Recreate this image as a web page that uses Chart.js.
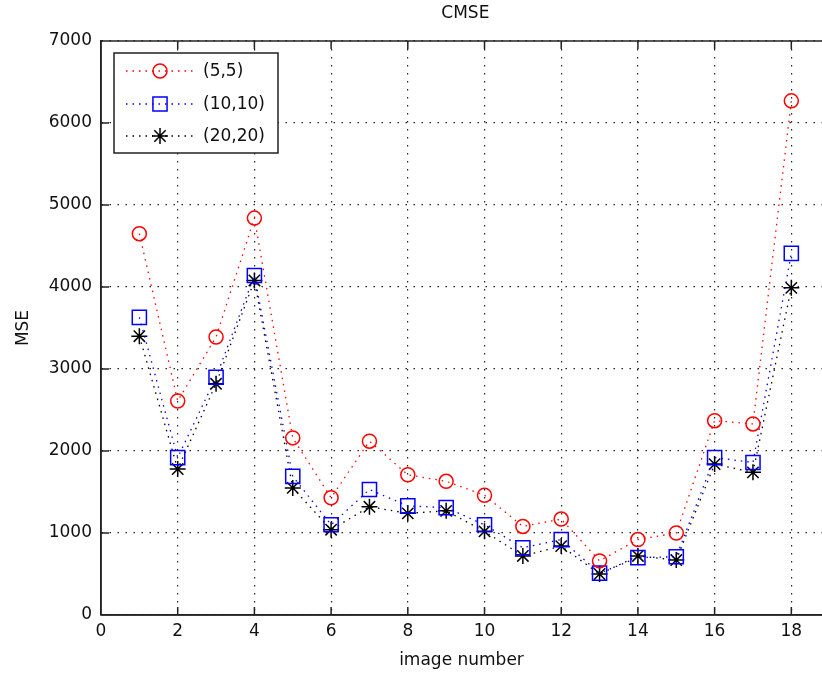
<!DOCTYPE html>
<html>
<head>
<meta charset="utf-8">
<title>CMSE</title>
<script src="https://cdn.jsdelivr.net/npm/chart.js@4/dist/chart.umd.min.js"></script>
<style>
html, body { margin: 0; padding: 0; background: #fff; overflow: hidden; }
</style>
</head>
<body>
<canvas id="myChart" width="822" height="676"></canvas>
<script>
// data
var imageNumbers = [1, 2, 3, 4, 5, 6, 7, 8, 9, 10, 11, 12, 13, 14, 15, 16, 17, 18];
var mse55   = [4650, 2610, 3390, 4840, 2160, 1430, 2120, 1710, 1630, 1460, 1080, 1170, 660, 920, 1000, 2370, 2330, 6270];
var mse1010 = [3630, 1920, 2900, 4140, 1690, 1100, 1530, 1330, 1310, 1100, 820, 920, 510, 700, 710, 1920, 1860, 4410];
var mse2020 = [3400, 1780, 2820, 4080, 1550, 1040, 1320, 1240, 1270, 1020, 720, 840, 500, 720, 670, 1840, 1740, 3990];
var seriesNames = ["(5,5)", "(10,10)", "(20,20)"];
var xTicks = [0, 2, 4, 6, 8, 10, 12, 14, 16, 18];
var yTicks = [0, 1000, 2000, 3000, 4000, 5000, 6000, 7000];

var FONT = "'DejaVu Sans', sans-serif";

function pts(ys) {
  return imageNumbers.map(function (x, i) { return { x: x, y: ys[i] }; });
}

function series(label, ys, color, style, radius) {
  return {
    label: label,
    data: pts(ys),
    borderColor: color,
    borderWidth: 1.3,
    borderDash: [1.5, 5],
    fill: false,
    tension: 0,
    pointStyle: style,
    pointRadius: radius,
    pointBorderColor: color,
    pointBackgroundColor: "rgba(0,0,0,0)",
    pointBorderWidth: 1.5
  };
}

// title, box, inward ticks and legend, matlab style
var matlabBits = {
  id: "matlabBits",
  afterDraw: function (chart) {
    var ctx = chart.ctx, a = chart.chartArea;
    var xs = chart.scales.x, ys = chart.scales.y;
    ctx.save();
    ctx.strokeStyle = "#222";
    ctx.lineWidth = 1.5;
    ctx.beginPath();
    ctx.moveTo(a.left, a.top); ctx.lineTo(a.right, a.top);
    ctx.moveTo(a.left, a.top); ctx.lineTo(a.left, a.bottom);
    ctx.moveTo(a.left, a.bottom); ctx.lineTo(a.right, a.bottom);
    xTicks.forEach(function (v) {
      var px = xs.getPixelForValue(v);
      ctx.moveTo(px, a.bottom); ctx.lineTo(px, a.bottom - 8);
      ctx.moveTo(px, a.top); ctx.lineTo(px, a.top + 8);
    });
    yTicks.forEach(function (v) {
      var py = ys.getPixelForValue(v);
      ctx.moveTo(a.left, py); ctx.lineTo(a.left + 8, py);
    });
    ctx.stroke();

    // title
    ctx.fillStyle = "#111";
    ctx.font = "17px " + FONT;
    ctx.textAlign = "center";
    ctx.textBaseline = "middle";
    ctx.fillText("CMSE", xs.getPixelForValue(9.5), 14);

    // legend box
    var bx = 114, by = 53, bw = 164, bh = 100;
    ctx.fillStyle = "#fff";
    ctx.fillRect(bx, by, bw, bh);
    ctx.strokeStyle = "#222";
    ctx.lineWidth = 1.5;
    ctx.strokeRect(bx, by, bw, bh);
    var rows = [71, 104, 136];
    chart.data.datasets.forEach(function (ds, i) {
      var y = rows[i];
      ctx.strokeStyle = ds.borderColor;
      ctx.lineWidth = ds.borderWidth;
      ctx.setLineDash(ds.borderDash);
      ctx.beginPath();
      ctx.moveTo(126, y); ctx.lineTo(195, y);
      ctx.stroke();
      ctx.setLineDash([]);
      ctx.lineWidth = ds.pointBorderWidth;
      ctx.fillStyle = "rgba(0,0,0,0)";
      Chart.helpers.drawPoint(ctx, { pointStyle: ds.pointStyle, radius: ds.pointRadius, rotation: 0, borderWidth: ds.pointBorderWidth }, 160, y);
      ctx.fillStyle = "#111";
      ctx.font = "17px " + FONT;
      ctx.textAlign = "left";
      ctx.fillText(ds.label, 203, y + 1);
    });
    ctx.restore();
  }
};

new Chart("myChart", {
  type: "line",
  data: {
    datasets: [
      series(seriesNames[0], mse55, "#ff0000", "circle", 7),
      series(seriesNames[1], mse1010, "#0000ff", "rect", 10),
      series(seriesNames[2], mse2020, "#000000", "star", 8)
    ]
  },
  options: {
    responsive: false,
    animation: false,
    devicePixelRatio: 1,
    layout: { autoPadding: false, padding: { top: 41, right: 0, bottom: 0, left: 0 } },
    plugins: {
      legend: { display: false },
      title: { display: false },
      tooltip: { enabled: false }
    },
    scales: {
      x: {
        type: "linear",
        min: 0,
        max: 18.8,
        afterFit: function (s) { s.height = 61; s.paddingRight = 0; s.paddingLeft = 0; },
        afterBuildTicks: function (s) {
          s.ticks = xTicks.map(function (v) { return { value: v }; });
        },
        ticks: { color: "#111", font: { family: FONT, size: 17 }, padding: 6, maxRotation: 0 },
        grid: { color: "#222", lineWidth: 1.2, drawTicks: false },
        border: { display: true, color: "#222", width: 1.5, dash: [1.5, 6.5] },
        title: { display: true, text: "image number", color: "#111", font: { family: FONT, size: 17 }, padding: { top: 0, bottom: 5 } }
      },
      y: {
        min: 0,
        max: 7000,
        afterFit: function (s) { s.width = 101; s.paddingTop = 0; s.paddingBottom = 0; },
        afterBuildTicks: function (s) {
          s.ticks = yTicks.map(function (v) { return { value: v }; });
        },
        ticks: {
          color: "#111", font: { family: FONT, size: 17 }, padding: 9,
          callback: function (v) { return String(v); }
        },
        grid: { color: "#222", lineWidth: 1.2, drawTicks: false },
        border: { display: true, color: "#222", width: 1.5, dash: [1.5, 6.5] },
        title: { display: true, text: "MSE", color: "#111", font: { family: FONT, size: 17 }, padding: { top: 13, bottom: 0 } }
      }
    }
  },
  plugins: [matlabBits]
});
</script>
</body>
</html>
